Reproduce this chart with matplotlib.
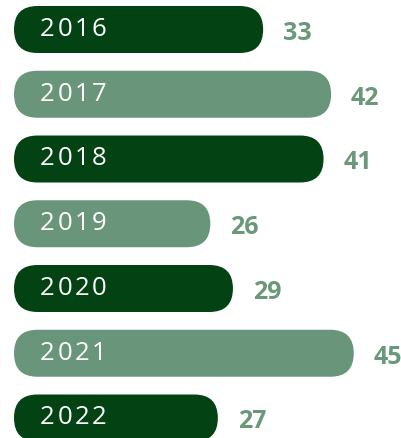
import matplotlib
matplotlib.use("Agg")
import matplotlib.pyplot as plt
from matplotlib.patches import FancyBboxPatch

# data
years = ["2016", "2017", "2018", "2019", "2020", "2021", "2022"]
values = [33, 42, 41, 26, 29, 45, 27]

dark = "#034313"
light = "#69967a"
label_col = "#6b987b"
colors = [dark if i % 2 == 0 else light for i in range(len(years))]

W, H = 402, 439
fig = plt.figure(figsize=(W / 100, H / 100), dpi=100)
ax = fig.add_axes([0, 0, 1, 1])
ax.axis("off")

# pixel-ish scaling: x0 at 14px, 7.55 px per unit; rows 64.75 px apart
px_x = 7.55
px_y = 64.75
ax.set_xlim(-14 / px_x, (W - 14) / px_x)
ax.set_ylim((H - 30.5) / px_y, -30.5 / px_y)

bar_h = 47 / px_y
aspect = px_x / px_y
radius = bar_h / aspect / 2
pitch = 17.3  # letter spaced year labels

for i, (yr, v) in enumerate(zip(years, values)):
    box = FancyBboxPatch((0, i - bar_h / 2), v, bar_h,
                         boxstyle=f"round,pad=0,rounding_size={radius}",
                         mutation_aspect=aspect, fc=colors[i], ec="none")
    ax.add_patch(box)
    for k, ch in enumerate(yr):
        ax.annotate(ch, (0, i), xytext=(26 + k * pitch, 1), textcoords="offset pixels",
                    ha="left", va="center", color="white", fontsize=18.5,
                    family="Open Sans")
    ax.annotate(str(v), (v, i), xytext=(20, -3), textcoords="offset pixels",
                ha="left", va="center", color=label_col, fontsize=18,
                family="Open Sans", fontweight="bold")

fig.savefig("out.png", dpi=100)
